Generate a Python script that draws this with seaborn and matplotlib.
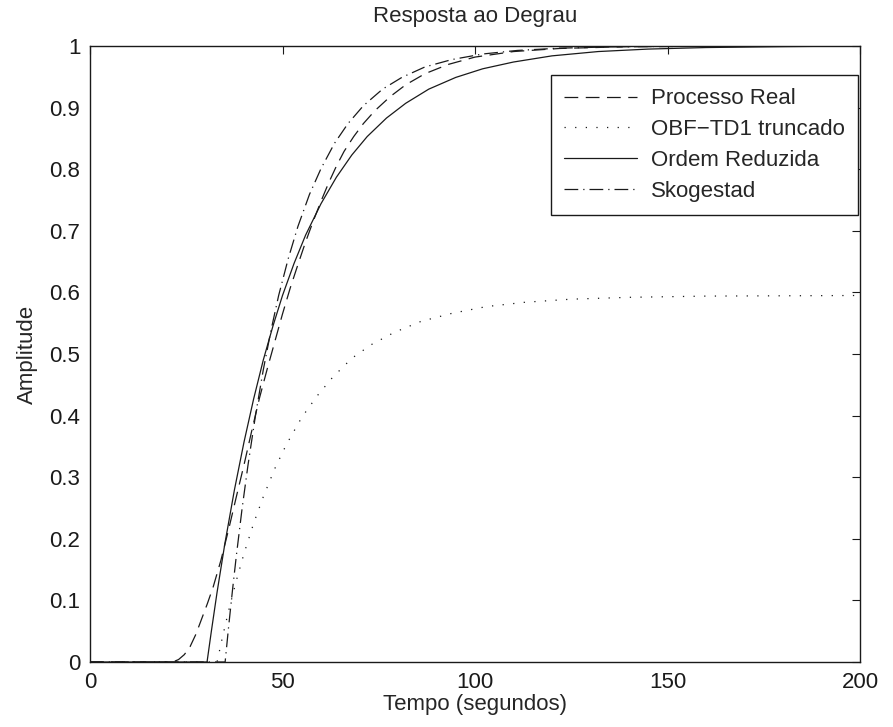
import matplotlib
matplotlib.use("Agg")
import matplotlib.pyplot as plt
import seaborn as sns

sns.set_theme(style="white")
plt.rcParams['font.family'] = ['Liberation Sans', 'DejaVu Sans']

# Processo Real (dashed)
t_real = [0, 21.5, 23, 24.5, 26, 27.5, 29, 30.5, 32, 34, 36, 38, 40, 42, 44, 46, 48, 50, 52, 54, 56, 58, 60, 62, 64, 66, 68.5, 71, 74, 78, 82, 87, 93, 100, 110, 122, 140, 200]
v_real = [0, 0, 0.004, 0.012, 0.025, 0.045, 0.07, 0.095, 0.122, 0.165, 0.215, 0.268, 0.32, 0.375, 0.428, 0.475, 0.52, 0.565, 0.607, 0.645, 0.682, 0.716, 0.748, 0.778, 0.805, 0.829, 0.853, 0.874, 0.895, 0.918, 0.937, 0.955, 0.970, 0.982, 0.991, 0.996, 0.999, 1.0]

# OBF-TD1 truncado (dotted)
t_obf = [0, 33, 34.5, 36, 38, 40, 42.5, 45, 48, 51, 55, 59, 63, 68, 73, 79, 86, 94, 103, 113, 125, 140, 160, 200]
v_obf = [0, 0, 0.043, 0.083, 0.132, 0.176, 0.225, 0.268, 0.314, 0.353, 0.397, 0.432, 0.462, 0.493, 0.515, 0.535, 0.553, 0.566, 0.577, 0.584, 0.589, 0.592, 0.594, 0.595]

# Ordem Reduzida (solid)
t_red = [0, 30.4, 31.5, 33, 35, 37.5, 40, 42.5, 45, 47.5, 50, 53, 56, 60, 64, 68, 72, 77, 82, 88, 95, 102, 110, 120, 132, 145, 160, 180, 200]
v_red = [0, 0, 0.049, 0.113, 0.191, 0.279, 0.357, 0.427, 0.490, 0.545, 0.595, 0.647, 0.693, 0.744, 0.787, 0.823, 0.853, 0.883, 0.907, 0.930, 0.949, 0.963, 0.974, 0.984, 0.991, 0.995, 0.9975, 0.999, 1.0]

# Skogestad (dash-dot)
t_sko = [0, 35.1, 36, 37, 38, 39.5, 41, 43, 45, 47, 49, 51.5, 54, 57, 60, 63.5, 67, 71, 76, 81, 87, 94, 102, 111, 122, 135, 150, 200]
v_sko = [0, 0, 0.057, 0.116, 0.172, 0.249, 0.318, 0.401, 0.474, 0.538, 0.595, 0.655, 0.707, 0.759, 0.801, 0.842, 0.874, 0.903, 0.930, 0.949, 0.966, 0.978, 0.987, 0.9928, 0.9965, 0.9985, 0.9994, 1.0]

series_names = ["Processo Real", "OBF\u2212TD1 truncado", "Ordem Reduzida", "Skogestad"]
x_ticks = [0, 50, 100, 150, 200]
y_ticks = [0, 0.1, 0.2, 0.3, 0.4, 0.5, 0.6, 0.7, 0.8, 0.9, 1]
y_tick_labels = ["0", "0.1", "0.2", "0.3", "0.4", "0.5", "0.6", "0.7", "0.8", "0.9", "1"]

fig = plt.figure(figsize=(8.93, 7.27), dpi=100)
ax = fig.add_axes([90/893, 1-662/727, (860-90)/893, (662-46)/727])

fs = 16
lw = 0.9
sns.lineplot(x=t_real, y=v_real, ax=ax, color='k', lw=lw, linestyle=(0, (11, 6)), label=series_names[0])
sns.lineplot(x=t_obf, y=v_obf, ax=ax, color='k', lw=lw, linestyle=(0, (1.0, 7.5)), label=series_names[1])
sns.lineplot(x=t_red, y=v_red, ax=ax, color='k', lw=lw, linestyle='-', label=series_names[2])
sns.lineplot(x=t_sko, y=v_sko, ax=ax, color='k', lw=lw, linestyle=(0, (11, 4, 1.0, 4)), label=series_names[3])

ax.set_xlim(0, 200)
ax.set_ylim(0, 1)
ax.set_xticks(x_ticks)
ax.set_xticklabels([str(v) for v in x_ticks])
ax.set_yticks(y_ticks)
ax.set_yticklabels(y_tick_labels)
ax.tick_params(direction='in', length=6, width=0.8, top=True, right=True, labelsize=fs, colors='k', pad=7)
for s in ax.spines.values():
    s.set_visible(True)
    s.set_color('k')
    s.set_linewidth(1.0)
ax.grid(False)
ax.set_facecolor('white')

ax.set_title("Resposta ao Degrau", fontsize=fs, pad=17)
ax.set_xlabel("Tempo (segundos)", fontsize=fs, labelpad=1)
ax.set_ylabel("Amplitude", fontsize=fs, labelpad=8)

leg = ax.legend(loc='upper right', bbox_to_anchor=(858/893, 1-75/727), bbox_transform=fig.transFigure,
                frameon=True, fancybox=False, fontsize=fs, handlelength=3.3, handletextpad=0.6,
                borderpad=0.6, labelspacing=0.44, borderaxespad=0)
leg.get_frame().set_edgecolor('k')
leg.get_frame().set_linewidth(1.0)
leg.get_frame().set_alpha(1)

fig.savefig("out.png", dpi=100, facecolor='white')
